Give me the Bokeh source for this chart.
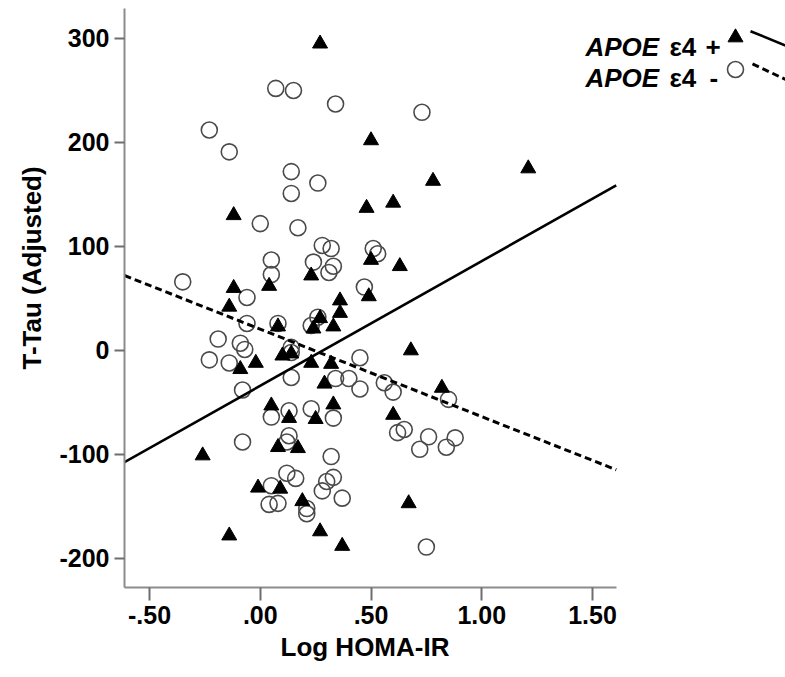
from bokeh.plotting import figure
from bokeh.models import Range1d, FixedTicker, Label, Title
from bokeh.embed import file_html
from bokeh.resources import INLINE

# ---------------- data ----------------
# APOE e4 + (filled triangles)
pos_x = [0.27, -0.12, 0.50, 0.78, 1.21, 0.60, 0.48, 0.23, 0.04, -0.12,
         -0.14, 0.50, 0.63, 0.49, 0.36, 0.36, 0.33, 0.27, 0.24, 0.08,
         -0.02, -0.09, 0.10, 0.14, 0.23, 0.32, 0.29, 0.68, 0.82, 0.33,
         0.25, 0.60, 0.05, 0.13, -0.26, 0.08, 0.17, -0.01, 0.09, 0.19,
         0.67, -0.14, 0.27, 0.37]
pos_y = [295, 130, 202, 163, 175, 142, 137, 72, 62, 60,
         42, 87, 81, 52, 48, 36, 23, 31, 21, 23,
         -12, -18, -5, -3, -12, -13, -32, 0, -36, -52,
         -66, -62, -53, -65, -101, -93, -94, -132, -133, -145,
         -147, -178, -174, -188]

# APOE e4 - (open circles)
neg_x = [-0.23, -0.14, 0.07, 0.15, 0.14, 0.14, 0.26, 0.34, 0.73, 0.00,
         0.17, 0.28, 0.32, 0.51, 0.53, 0.05, 0.24, 0.31, 0.33, 0.05,
         -0.35, -0.06, 0.47, -0.06, 0.08, 0.26, 0.23, -0.19, -0.09, -0.07,
         0.14, 0.14, -0.23, -0.14, 0.14, -0.08, 0.45, 0.34, 0.40, 0.45,
         0.56, 0.60, 0.85, 0.33, 0.23, 0.62, 0.65, 0.76, 0.72, 0.84,
         0.88, 0.05, 0.13, -0.08, 0.13, 0.12, 0.32, 0.12, 0.16, 0.05,
         0.04, 0.08, 0.21, 0.21, 0.28, 0.30, 0.33, 0.37, 0.75]
neg_y = [212, 191, 252, 250, 172, 151, 161, 237, 229, 122,
         118, 101, 98, 98, 93, 87, 85, 75, 81, 73,
         66, 51, 61, 26, 26, 32, 24, 11, 7, 1,
         3, -2, -9, -12, -26, -38, -7, -27, -27, -37,
         -31, -40, -47, -65, -56, -79, -76, -83, -95, -93,
         -84, -64, -58, -88, -82, -88, -102, -118, -123, -130,
         -148, -147, -152, -157, -135, -126, -122, -142, -189]

# fitted lines (end points over the x extent)
fit_x = [-0.613, 1.607]
pos_fit_y = [-107.4, 158.7]
neg_fit_y = [72.1, -114.7]

x_ticks = [-0.5, 0.0, 0.5, 1.0, 1.5]
x_tick_labels = ["-.50", ".00", ".50", "1.00", "1.50"]
y_ticks = [-200, -100, 0, 100, 200, 300]
y_tick_labels = ["-200", "-100", "0", "100", "200", "300"]

x_title = "Log HOMA-IR"
y_title = "T-Tau (Adjusted)"
legend_gene = "APOE"
legend_allele = "\u03b54"
legend_plus = "+"
legend_minus = "-"

# ---------------- layout ----------------
FONT = "Liberation Sans"
W, H = 785, 677
FRAME_L, FRAME_T = 124, 8
FRAME_W, FRAME_H = W - 124, 579
PX_PER_X, PX_PER_Y = 221.5, 1.04
X0 = -0.6129
X1 = X0 + FRAME_W / PX_PER_X
Y0 = -227.9
Y1 = Y0 + FRAME_H / PX_PER_Y

p = figure(width=W, height=H, x_range=Range1d(X0, X1), y_range=Range1d(Y0, Y1),
           output_backend="svg", toolbar_location=None,
           min_border_left=FRAME_L, min_border_right=0,
           min_border_top=FRAME_T, min_border_bottom=H - FRAME_T - FRAME_H)
p.outline_line_color = None
p.grid.visible = False
p.background_fill_color = "white"
p.border_fill_color = "white"

# pixel helper ranges for the legend decorations
p.extra_x_ranges = {"px": Range1d(FRAME_L, FRAME_L + FRAME_W)}
p.extra_y_ranges = {"px": Range1d(FRAME_T + FRAME_H, FRAME_T)}

# points
p.scatter(neg_x, neg_y, marker="circle", size=16, fill_color=None,
          line_color="#4a4a4a", line_width=1.6)
p.scatter(pos_x, pos_y, marker="triangle", size=15, fill_color="black",
          line_color="black", line_width=1)
# fit lines
p.line(fit_x, pos_fit_y, line_color="black", line_width=2.6)
p.line(fit_x, neg_fit_y, line_color="black", line_width=3, line_dash="7 4")

# axes
for ax in (p.xaxis[0], p.yaxis[0]):
    ax.axis_line_color = "#8c8c8c"
    ax.axis_line_width = 2
    ax.major_tick_line_color = "#6e6e6e"
    ax.major_tick_line_width = 2
    ax.major_tick_in = 0
    ax.minor_tick_line_color = None
    ax.major_label_text_font = FONT
    ax.major_label_text_font_style = "bold"
    ax.major_label_text_font_size = "25px"
    ax.major_label_text_color = "black"

p.xaxis.ticker = FixedTicker(ticks=x_ticks)
p.xaxis.major_label_overrides = dict(zip(x_ticks, x_tick_labels))
p.xaxis.bounds = (X0, fit_x[1])
p.xaxis.major_tick_out = 13
p.xaxis.major_label_standoff = 5

p.yaxis.ticker = FixedTicker(ticks=y_ticks)
p.yaxis.major_label_overrides = dict(zip(y_ticks, y_tick_labels))
p.yaxis.major_tick_out = 10
p.yaxis.major_label_standoff = 5

# axis titles (as titles so they can sit outside the frame)
p.add_layout(Title(text=x_title, align="left", offset=156, standoff=7,
                   text_font=FONT, text_font_style="bold", text_font_size="26px",
                   text_color="black"), "below")
p.add_layout(Title(text=y_title, align="left", offset=218, standoff=19,
                   text_font=FONT, text_font_style="bold", text_font_size="26px",
                   text_color="black"), "left")

# legend
def leg_text(x, y, t, style):
    p.add_layout(Label(x=x, y=y, x_range_name="px", y_range_name="px", text=t,
                       text_align="left", text_baseline="alphabetic",
                       text_font=FONT, text_font_style=style, text_font_size="26px",
                       text_color="black"))

for yb, sign, sx in ((46, legend_plus, 705), (77, legend_minus, 709)):
    leg_text(585, yb, legend_gene, "bold italic")
    leg_text(669, yb, legend_allele, "bold")
    leg_text(sx, yb, sign, "bold")

p.scatter([735], [37], marker="triangle", size=15, fill_color="black", line_color="black",
          x_range_name="px", y_range_name="px")
p.scatter([735], [69], marker="circle", size=16, fill_color=None, line_color="#4a4a4a",
          line_width=1.6, x_range_name="px", y_range_name="px")
p.line([750, 785], [30.7, 45.0], line_color="black", line_width=2.6,
       x_range_name="px", y_range_name="px")
p.line([752, 785], [63.3, 79.0], line_color="black", line_width=3, line_dash="7 4",
       x_range_name="px", y_range_name="px")

open("out.html", "w").write(file_html(p, INLINE))
